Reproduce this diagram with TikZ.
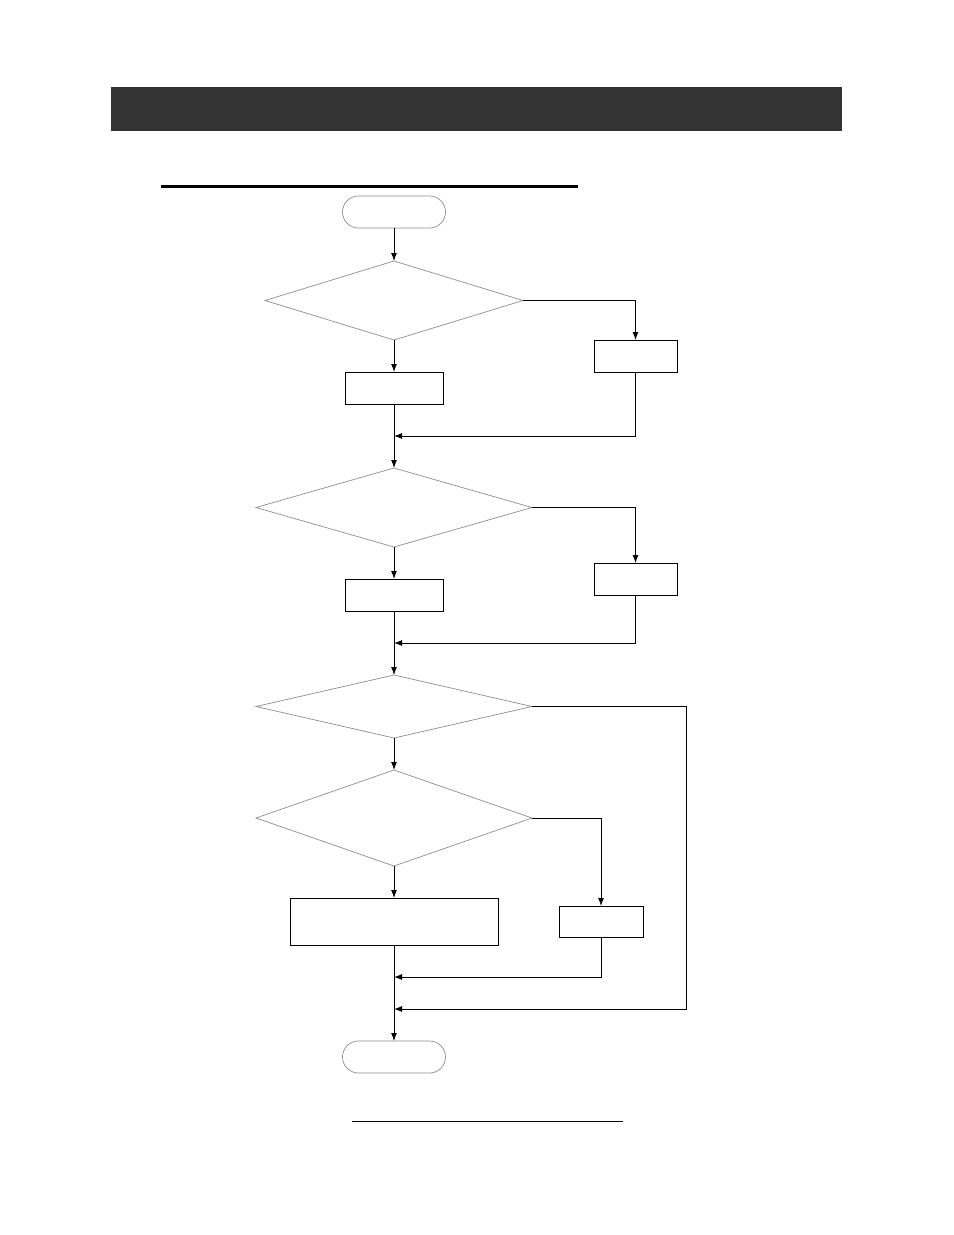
\documentclass[tikz,border=0pt]{standalone}
\usepackage{amsmath}
\usepackage{tikz}
\usetikzlibrary{shapes.geometric,arrows.meta}

\begin{document}
\begin{tikzpicture}[x=1bp,y=-1bp,line width=1bp,
  term/.style={rectangle,rounded corners=16bp,draw=black!45,line width=0.7bp,minimum width=103bp,minimum height=32bp,inner sep=0pt,outer sep=0pt},
  test/.style={diamond,draw=black!45,line width=0.7bp,inner sep=0pt,outer sep=0pt},
  proc/.style={rectangle,draw,minimum height=32bp,inner sep=0pt,outer sep=0pt},
  flow/.style={-{Latex[length=8bp,width=6bp]}}]
\useasboundingbox (0,0) rectangle (954,1235);

\fill[black!80] (111,87) rectangle (842,131);
\draw[line width=3bp] (161,186) -- (578,186);
\draw[line width=0.8bp] (352,1121) -- (623,1121);

\node (start) at (394,212) [term] {};
\node (d1) at (394,300.5) [test,minimum width=258bp,minimum height=79bp] {};
\node (a1) at (394,388) [proc,minimum width=98bp] {};
\node (b1) at (635.5,356) [proc,minimum width=83bp] {};
\coordinate (m1) at (394,436);

\node (d2) at (394,507.5) [test,minimum width=276bp,minimum height=79bp] {};
\node (a2) at (394,595) [proc,minimum width=98bp] {};
\node (b2) at (635.5,579) [proc,minimum width=83bp] {};
\coordinate (m2) at (394,643);

\node (d3) at (394,706.5) [test,minimum width=276bp,minimum height=63bp] {};
\node (d4) at (394,818) [test,minimum width=276bp,minimum height=96bp] {};
\node (a4) at (394,921.5) [proc,minimum width=208bp,minimum height=47bp] {};
\node (b4) at (601,921.5) [proc,minimum width=84bp,minimum height=31bp] {};
\coordinate (m3) at (394,977);
\coordinate (m4) at (394,1009);
\coordinate (c3) at (686,1009);
\node (stop) at (394,1057) [term] {};

\draw[flow] (start) -- (d1);
\draw[flow] (d1) -- (a1);
\draw[flow] (d1.east) -| (b1.north);
\draw[flow] (b1.south) |- (m1);
\draw[flow] (a1) -- (d2);

\draw[flow] (d2) -- (a2);
\draw[flow] (d2.east) -| (b2.north);
\draw[flow] (b2.south) |- (m2);
\draw[flow] (a2) -- (d3);

\draw[flow] (d3) -- (d4);
\draw[flow] (d4) -- (a4);
\draw[flow] (d4.east) -| (b4.north);
\draw[flow] (b4.south) |- (m3);
\draw[flow] (d3.east) -| (c3) -- (m4);
\draw[flow] (a4) -- (stop);

\end{tikzpicture}
\end{document}
